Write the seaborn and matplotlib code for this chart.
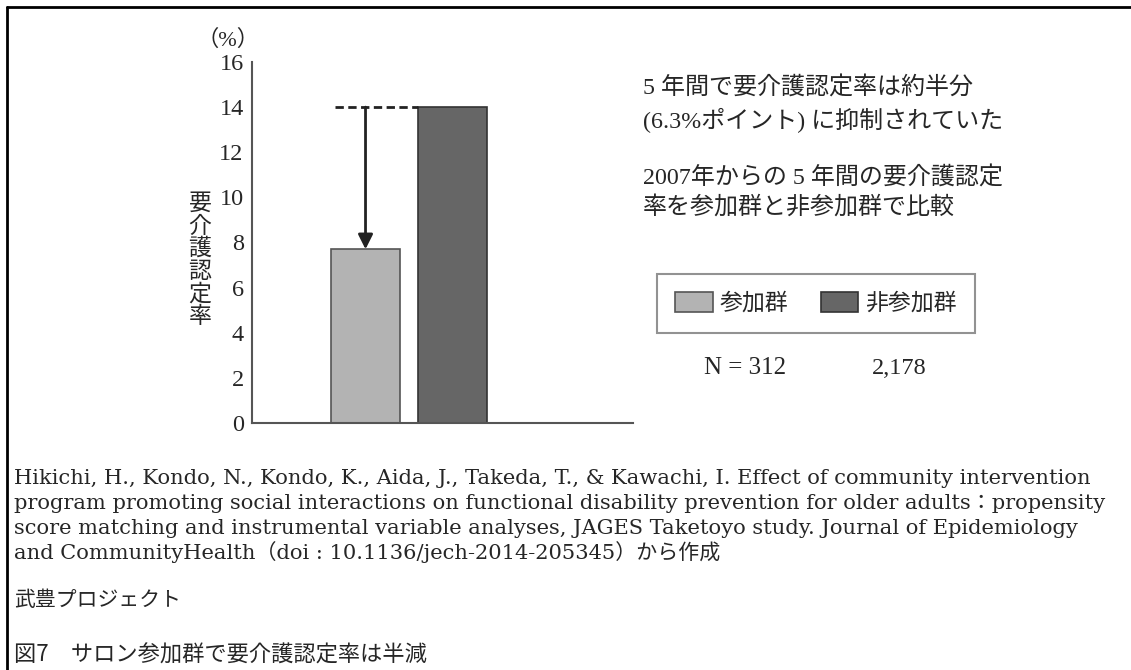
import matplotlib
matplotlib.use("Agg")
import matplotlib.pyplot as plt
import seaborn as sns
import pandas as pd
from matplotlib.lines import Line2D

# data
groups = ["参加群", "非参加群"]
rates = [7.7, 14.0]
n_labels = ["N = 312", "2,178"]
yticks = [0, 2, 4, 6, 8, 10, 12, 14, 16]

cores = ["#b3b3b3", "#666666"]
bordas = ["#555555", "#333333"]

sns.set_style("white")
serif_jp = ["Liberation Serif", "Noto Sans CJK JP"]
cit_jp = ["DejaVu Serif", "Noto Sans CJK JP"]
sans_jp = ["Noto Sans CJK JP", "DejaVu Sans"]
plt.rcParams["font.family"] = serif_jp

W, H = 1131, 670
fig = plt.figure(figsize=(W / 100, H / 100), dpi=100)
ax = fig.add_axes([252 / W, 1 - 423 / H, (633 - 252) / W, (423 - 62) / H])

df = pd.DataFrame({"grupo": groups, "taxa": rates})
sns.barplot(data=df, x="grupo", y="taxa", hue="grupo", palette=cores,
            legend=False, width=0.793, saturation=1, ax=ax)
for p, b in zip(ax.patches, bordas):
    p.set_edgecolor(b)
    p.set_linewidth(1.2)

ax.set_xlim(-1.305, 3.075)
ax.set_ylim(0, 16)
ax.set_yticks(yticks)
ax.set_yticklabels([str(t) for t in yticks], fontsize=17.5, family="Liberation Serif")
ax.set_xticks([])
ax.set_xlabel("")
ax.set_ylabel("")
ax.tick_params(axis="y", direction="in", length=7, width=1.2, color="#555555", pad=6)
for s in ["top", "right"]:
    ax.spines[s].set_visible(False)
for s in ["left", "bottom"]:
    ax.spines[s].set_color("#555555")
    ax.spines[s].set_linewidth(1.5)

# linha tracejada e seta
p0, p1 = ax.patches[0], ax.patches[1]
x0 = p0.get_x() + 0.05
x1 = p1.get_x()
ax.hlines(rates[1], x0, x1, colors="#222222", linestyles=(0, (3, 1.6)), linewidth=2)
xc = p0.get_x() + p0.get_width() / 2
ax.annotate("", xy=(xc, rates[0]), xytext=(xc, rates[1]),
            arrowprops=dict(arrowstyle="-|>", color="#222222", lw=2,
                            mutation_scale=22, shrinkA=0, shrinkB=0))

# rotulos
fig.text(228 / W, 1 - 40 / H, "（%）", fontsize=16, ha="center", va="center", family=serif_jp)
fig.text(200 / W, 1 - 260 / H, "\n".join("要介護認定率"), fontsize=16.5, ha="center",
         va="center", family=sans_jp, linespacing=0.98)

txt = dict(fontsize=17.3, ha="left", va="center", family=serif_jp)
fig.text(643 / W, 1 - 88 / H, "5 年間で要介護認定率は約半分", **txt)
fig.text(643 / W, 1 - 120 / H, "(6.3%ポイント) に抑制されていた", **txt)
fig.text(643 / W, 1 - 178 / H, "2007年からの 5 年間の要介護認定", **txt)
fig.text(643 / W, 1 - 207 / H, "率を参加群と非参加群で比較", **txt)

leg = fig.legend(handles=ax.patches[:2], labels=groups, ncol=2, loc="center",
                 bbox_to_anchor=(816 / W, 1 - 303.5 / H), frameon=True, fancybox=False,
                 prop={"family": sans_jp, "size": 16.5}, handlelength=1.65, handleheight=0.95,
                 handletextpad=0.3, columnspacing=1.4, borderpad=0.8, borderaxespad=0)
leg.get_frame().set_edgecolor("#777777")
leg.get_frame().set_linewidth(1.5)

fig.text(745 / W, 1 - 368 / H, n_labels[0], fontsize=18, ha="center", va="center")
fig.text(899 / W, 1 - 368 / H, n_labels[1], fontsize=17.5, ha="center", va="center")

# citacao
cit = [
    "Hikichi, H., Kondo, N., Kondo, K., Aida, J., Takeda, T., & Kawachi, I. Effect of community intervention",
    "program promoting social interactions on functional disability prevention for older adults：propensity",
    "score matching and instrumental variable analyses, JAGES Taketoyo study. Journal of Epidemiology",
    "and CommunityHealth（doi : 10.1136/jech‑2014‑205345）から作成",
]
for i, linha in enumerate(cit):
    fig.text(14 / W, 1 - (479 + 24.5 * i) / H, linha, fontsize=15.1, ha="left", va="center",
             family=cit_jp)
fig.text(14 / W, 1 - 600 / H, "武豊プロジェクト", fontsize=15, ha="left", va="center", family=sans_jp)
fig.text(14 / W, 1 - 655 / H, "図7　サロン参加群で要介護認定率は半減", fontsize=16, ha="left",
         va="center", family=sans_jp)

# moldura
fig.add_artist(Line2D([7 / W, 7 / W], [0, 1 - 7 / H], color="black", lw=2, transform=fig.transFigure))
fig.add_artist(Line2D([7 / W, 1], [1 - 7 / H, 1 - 7 / H], color="black", lw=2, transform=fig.transFigure))

fig.savefig("out.png", dpi=100)
